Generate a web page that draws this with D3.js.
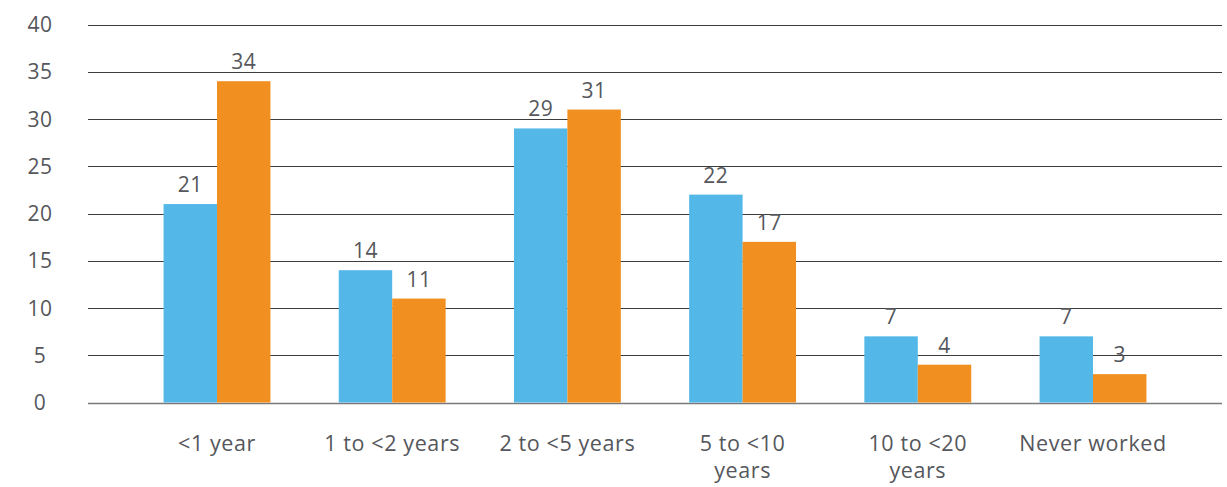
<!DOCTYPE html>
<html>
<head>
<meta charset="utf-8">
<script src="https://cdn.jsdelivr.net/npm/d3@7"></script>
<style>
  html, body { margin: 0; padding: 0; background: #fff; }
  svg { display: block; }
  text { font-family: "Open Sans", Lato, sans-serif; fill: #55575c; }
</style>
</head>
<body>
<svg id="chart" width="1227" height="487"></svg>
<script>
// Length of time since last worked, two groups compared
const categories = [["<1 year"], ["1 to <2 years"], ["2 to <5 years"], ["5 to <10", "years"], ["10 to <20", "years"], ["Never worked"]];
const groupA = [21, 14, 29, 22, 7, 7];
const groupB = [34, 11, 31, 17, 4, 3];
const yTicks = [0, 5, 10, 15, 20, 25, 30, 35, 40];
const seriesColors = ["#53b8e8", "#f18f20"];

const svg = d3.select("#chart");
const gridLeft = 88, gridRight = 1222;

const y = d3.scaleLinear().domain([0, 40]).range([402.5, 24.5]);

const catKeys = categories.map(c => c.join(" "));
const x0 = d3.scaleBand()
  .domain(catKeys)
  .range([129.4, 1180.6])
  .paddingInner(0.39)
  .paddingOuter(0.195);

const x1 = d3.scaleBand()
  .domain([0, 1])
  .range([0, x0.bandwidth()]);

// horizontal gridlines
svg.append("g")
  .selectAll("line")
  .data(yTicks)
  .join("line")
  .attr("x1", gridLeft)
  .attr("x2", gridRight)
  .attr("y1", d => Math.round(y(d)) + 0.5)
  .attr("y2", d => Math.round(y(d)) + 0.5)
  .attr("stroke", d => d === 0 ? "#7a7a7a" : "#3c3c3c")
  .attr("stroke-width", d => d === 0 ? 1.6 : 1.1);

// y tick labels
svg.append("g")
  .selectAll("text")
  .data(yTicks)
  .join("text")
  .attr("x", 40)
  .attr("y", d => y(d))
  .attr("dy", "0.36em")
  .attr("text-anchor", "middle")
  .attr("font-size", 21)
  .attr("letter-spacing", 0.5)
  .text(d => d);

// bars
const rows = catKeys.map((k, i) => ({ key: k, values: [groupA[i], groupB[i]] }));

const groups = svg.append("g")
  .selectAll("g")
  .data(rows)
  .join("g")
  .attr("transform", d => `translate(${x0(d.key)},0)`);

groups.selectAll("rect")
  .data(d => d.values.map((v, s) => ({ v, s })))
  .join("rect")
  .attr("x", d => x1(d.s))
  .attr("width", x1.bandwidth())
  .attr("y", d => y(d.v))
  .attr("height", d => y(0) - y(d.v))
  .attr("fill", d => seriesColors[d.s]);

// value labels
groups.selectAll("text.val")
  .data(d => d.values.map((v, s) => ({ v, s })))
  .join("text")
  .attr("class", "val")
  .attr("x", d => x1(d.s) + x1.bandwidth() / 2)
  .attr("y", d => y(d.v) - 12)
  .attr("text-anchor", "middle")
  .attr("font-size", 21)
  .attr("letter-spacing", 0.5)
  .text(d => d.v);

// category labels
const catLabels = svg.append("g")
  .selectAll("text")
  .data(categories)
  .join("text")
  .attr("x", (d, i) => x0(catKeys[i]) + x0.bandwidth() / 2)
  .attr("y", 451)
  .attr("text-anchor", "middle")
  .attr("font-size", 21.5)
  .attr("letter-spacing", 0.6);

catLabels.selectAll("tspan")
  .data(d => d)
  .join("tspan")
  .attr("x", function () { return d3.select(this.parentNode).attr("x"); })
  .attr("dy", (d, i) => i === 0 ? 0 : 27)
  .text(d => d);
</script>
</body>
</html>
